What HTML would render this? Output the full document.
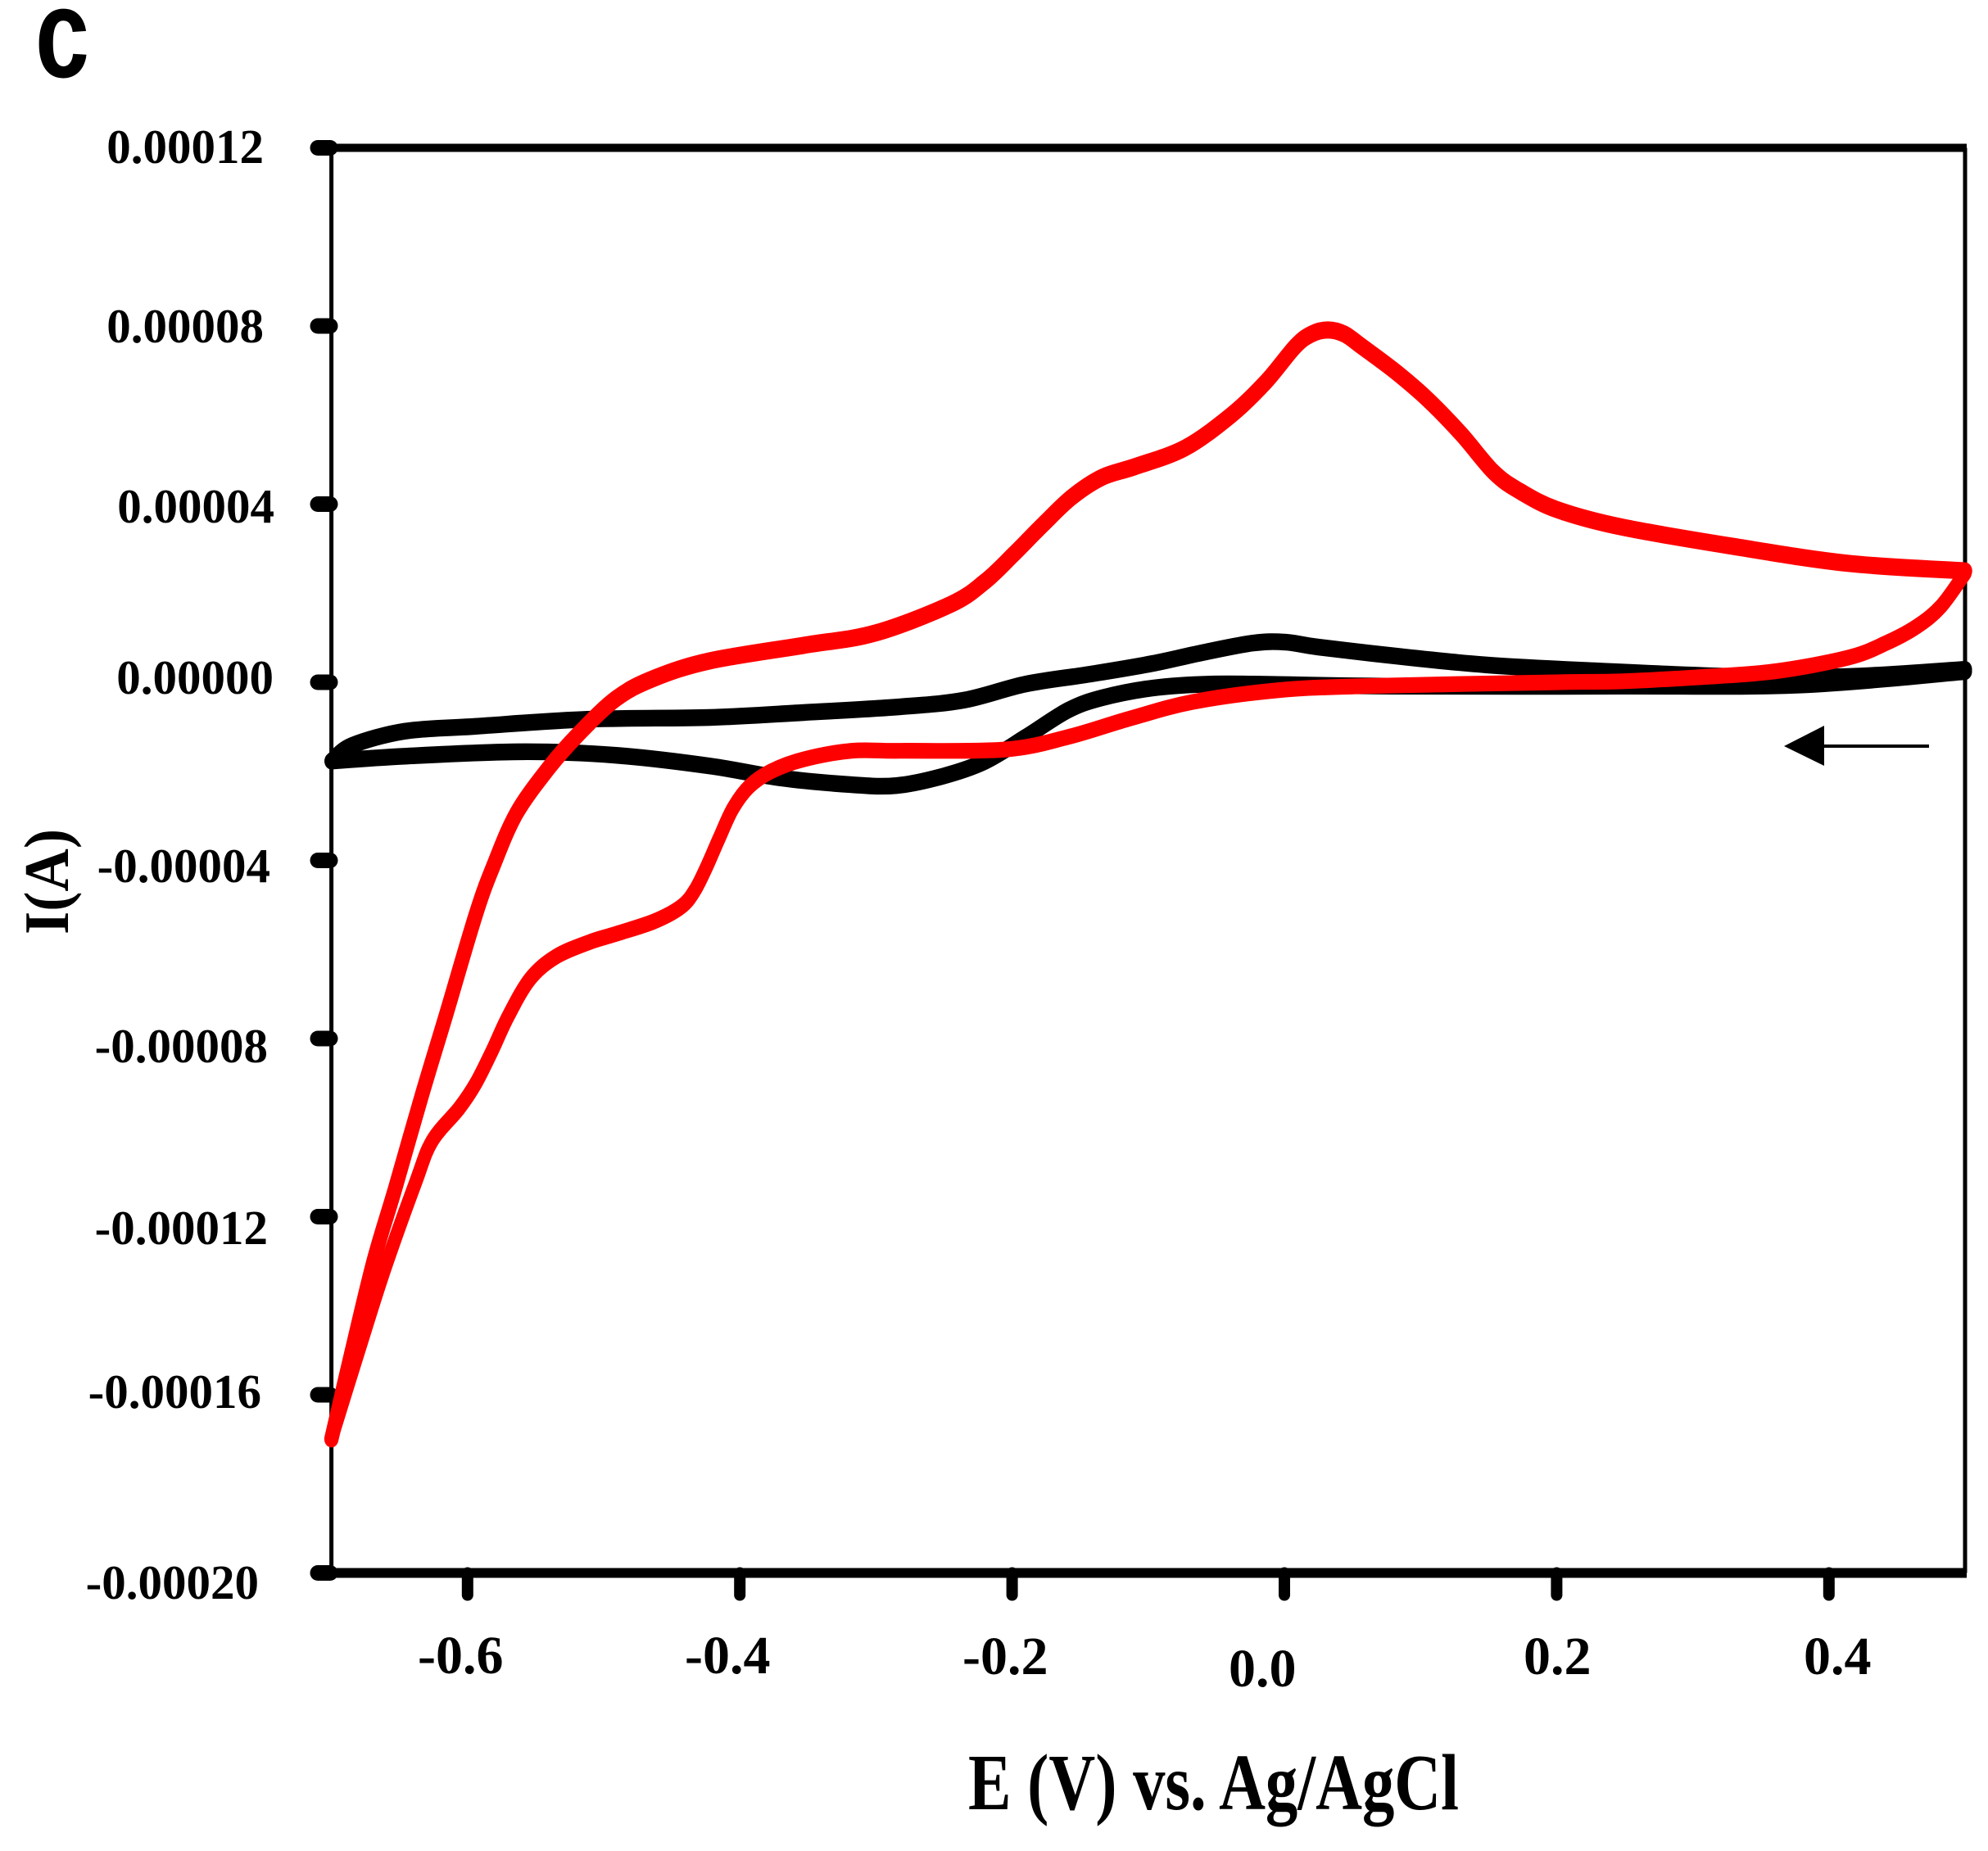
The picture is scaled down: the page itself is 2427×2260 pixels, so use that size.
<!DOCTYPE html>
<html lang="en">
<head>
<meta charset="utf-8">
<title>Cyclic voltammogram</title>
<style>
html,body{margin:0;padding:0;background:#fff;}
svg{display:block;}
text{font-family:"Liberation Serif",serif;font-weight:700;fill:#000;}
</style>
</head>
<body>
<svg id="chart" xmlns="http://www.w3.org/2000/svg" width="2427" height="2260" viewBox="0 0 2427 2260">
<rect width="2427" height="2260" fill="#fff"/>
<text x="43" y="94" font-size="155" textLength="66" lengthAdjust="spacingAndGlyphs" style="font-family:'Liberation Sans',sans-serif">c</text>
<g id="marks-axes"></g>
<g id="marks-black" transform="scale(1,1.2)"></g>
<g id="marks-red" transform="scale(1,1.2)"></g>
<g font-size="59" text-anchor="end">
<text x="322" y="199">0.00012</text>
<text x="322" y="418">0.00008</text>
<text x="335" y="638">0.00004</text>
<text x="334" y="847">0.00000</text>
<text x="330" y="1077">-0.00004</text>
<text x="327" y="1297">-0.00008</text>
<text x="327" y="1519">-0.00012</text>
<text x="319" y="1719">-0.00016</text>
<text x="316" y="1952">-0.00020</text>
</g>
<g font-size="66">
<text x="510" y="2043">-0.6</text>
<text x="836" y="2043">-0.4</text>
<text x="1175" y="2044">-0.2</text>
<text x="1500" y="2059">0.0</text>
<text x="1860" y="2044">0.2</text>
<text x="2202" y="2044">0.4</text>
</g>
<text x="1182" y="2209" font-size="97" textLength="599" lengthAdjust="spacingAndGlyphs">E (V) vs. Ag/AgCl</text>
<text transform="translate(83,1141) rotate(-90)" font-size="77" textLength="129" lengthAdjust="spacingAndGlyphs">I(A)</text>
<g>
<line x1="2225" y1="911" x2="2355" y2="911" stroke="#000" stroke-width="4"/>
<polygon points="2178,911 2227,886 2227,935" fill="#000"/>
</g>
</svg>
<script>
// Axis tick values
const xTickValues = [-0.6, -0.4, -0.2, 0, 0.2, 0.4];
const yTickValues = [12, 8, 4, 0, -4, -8, -12, -16, -20]; // in 1e-5 A

// Red series, upper branch: potential (V) and current (1e-5 A)
const redUpperE = [0.5,0.414,0.33,0.247,0.2,0.173,0.154,0.13,0.105,0.081,0.056,0.044,0.032,0.02,0.008,-0.014,-0.039,-0.073,-0.11,-0.134,-0.156,-0.177,-0.199,-0.22,-0.245,-0.301,-0.353,-0.422,-0.463,-0.491,-0.519,-0.54,-0.564,-0.581,-0.594,-0.616,-0.634,-0.653,-0.669,-0.685,-0.7];
const redUpperI = [2.5,2.67,3.05,3.49,3.88,4.29,4.71,5.57,6.36,6.99,7.56,7.82,7.91,7.82,7.54,6.73,6.0,5.26,4.84,4.6,4.16,3.55,2.87,2.26,1.75,1.1,0.83,0.48,0.09,-0.37,-1.18,-1.91,-2.94,-4.12,-5.22,-7.49,-9.32,-11.35,-13.0,-15.02,-16.99];

// Red series, lower branch
const redLowerE = [-0.7,-0.68,-0.661,-0.638,-0.626,-0.606,-0.594,-0.582,-0.57,-0.554,-0.535,-0.51,-0.491,-0.463,-0.443,-0.433,-0.424,-0.415,-0.405,-0.393,-0.377,-0.353,-0.318,-0.282,-0.205,-0.159,-0.113,-0.067,-0.005,0.056,0.2,0.247,0.303,0.359,0.414,0.442,0.4645,0.4825,0.5];
const redLowerI = [-16.99,-15.02,-13.19,-11.22,-10.3,-9.56,-9.01,-8.28,-7.49,-6.66,-6.16,-5.83,-5.65,-5.37,-5.04,-4.67,-4.12,-3.49,-2.83,-2.34,-2.0,-1.73,-1.54,-1.54,-1.51,-1.23,-0.81,-0.44,-0.18,-0.09,0,0.02,0.11,0.24,0.55,0.88,1.25,1.71,2.45];

// Black series, upper branch
const blackUpperE = [0.5,0.414,0.33,0.219,0.148,0.087,0.025,0.001,-0.023,-0.061,-0.097,-0.143,-0.19,-0.235,-0.282,-0.353,-0.422,-0.512,-0.594,-0.646,-0.685,-0.7];
const blackUpperI = [0.29,0.13,0.13,0.27,0.39,0.57,0.79,0.9,0.88,0.66,0.42,0.18,-0.04,-0.4,-0.55,-0.68,-0.79,-0.83,-0.99,-1.1,-1.42,-1.77];

// Black series, lower branch
const blackLowerE = [-0.7,-0.646,-0.56,-0.491,-0.422,-0.37,-0.318,-0.285,-0.251,-0.22,-0.19,-0.159,-0.134,-0.097,-0.054,-0.005,0.079,0.247,0.38,0.5];
const blackLowerI = [-1.77,-1.66,-1.56,-1.64,-1.88,-2.15,-2.3,-2.32,-2.11,-1.78,-1.23,-0.63,-0.35,-0.13,-0.04,-0.05,-0.09,-0.09,-0.06,0.24];

const NS = 'http://www.w3.org/2000/svg';
const strokeStretch = 1.2; // reference strokes are taller than they are wide
function xScale(e){ return 1568 + e * 1662; }
function yScale(i){ return 833 - i * 54.375; }

function smoothPath(es, is){
  const p = es.map((e, k) => [xScale(e), yScale(is[k]) / strokeStretch]);
  let d = 'M' + p[0][0].toFixed(1) + ' ' + p[0][1].toFixed(1);
  for (let k = 0; k < p.length - 1; k++){
    const a = p[Math.max(k - 1, 0)], b = p[k], c = p[k + 1], e = p[Math.min(k + 2, p.length - 1)];
    const c1x = b[0] + (c[0] - a[0]) / 6, c1y = b[1] + (c[1] - a[1]) / 6;
    const c2x = c[0] - (e[0] - b[0]) / 6, c2y = c[1] - (e[1] - b[1]) / 6;
    d += 'C' + c1x.toFixed(1) + ' ' + c1y.toFixed(1) + ' ' + c2x.toFixed(1) + ' ' + c2y.toFixed(1) + ' ' + c[0].toFixed(1) + ' ' + c[1].toFixed(1);
  }
  return d;
}

function drawCurve(parent, name, es, is, color, width){
  const el = document.createElementNS(NS, 'path');
  
  
  el.setAttribute('d', smoothPath(es, is));
  el.setAttribute('fill', 'none');
  el.setAttribute('stroke', color);
  el.setAttribute('stroke-width', width);
  el.setAttribute('stroke-linecap', 'round');
  el.setAttribute('stroke-linejoin', 'round');
  parent.appendChild(el);
}

function drawLine(parent, x1, y1, x2, y2, width, cap){
  const el = document.createElementNS(NS, 'line');
  el.setAttribute('x1', x1);
  el.setAttribute('y1', y1);
  el.setAttribute('x2', x2);
  el.setAttribute('y2', y2);
  el.setAttribute('stroke', '#000');
  el.setAttribute('stroke-width', width);
  el.setAttribute('stroke-linecap', cap);
  parent.appendChild(el);
  return el;
}

const axes = document.getElementById('marks-axes');
const axisLeft = xScale(-0.7), axisRight = xScale(0.5), axisTop = yScale(12), axisBottom = yScale(-20);

const leftAxis = drawLine(axes, axisLeft, axisTop, axisLeft, axisBottom, 5, 'butt');


const rightAxis = drawLine(axes, axisRight, axisTop, axisRight, axisBottom, 5, 'butt');


const topAxis = drawLine(axes, axisLeft, axisTop, axisRight + 2, axisTop, 10, 'butt');


const bottomAxis = drawLine(axes, axisLeft, axisBottom, axisRight + 2, axisBottom, 12, 'butt');



yTickValues.forEach(v => {
  const t = drawLine(axes, 388, yScale(v), 403, yScale(v), 19, 'round');
  
  
});
xTickValues.forEach(v => {
  const t = drawLine(axes, xScale(v), axisBottom, xScale(v), axisBottom + 27, 14, 'round');
  
  
});

const blackGroup = document.getElementById('marks-black');
drawCurve(blackGroup, 'black-curve-upper', blackUpperE, blackUpperI, '#000', 17);
drawCurve(blackGroup, 'black-curve-lower', blackLowerE, blackLowerI, '#000', 17);

const redGroup = document.getElementById('marks-red');
drawCurve(redGroup, 'red-curve-upper', redUpperE, redUpperI, '#ff0000', 17.5);
drawCurve(redGroup, 'red-curve-lower', redLowerE, redLowerI, '#ff0000', 16);
</script>
</body>
</html>
